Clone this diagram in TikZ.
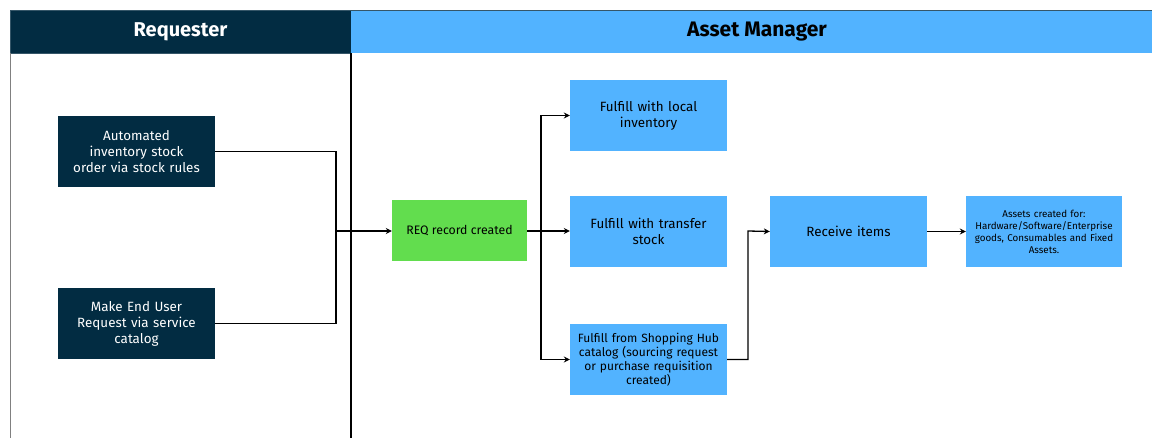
\documentclass[tikz,border=0pt]{standalone}
\usepackage{fontspec}
\setmainfont{Fira Sans}
\usetikzlibrary{arrows.meta}

\definecolor{navy}{HTML}{022C42}
\definecolor{skyblue}{HTML}{52B3FF}
\definecolor{reqgreen}{HTML}{62DD4E}

\tikzset{
  darkbox/.style={fill=navy, text=white, minimum width=157pt, minimum height=71pt,
    inner sep=0pt, align=center, text width=150pt, font=\fontsize{13.4}{16}\selectfont},
  bluebox/.style={fill=skyblue, text=black, minimum width=157pt, minimum height=71pt,
    inner sep=0pt, align=center, text width=150pt, font=\fontsize{13.4}{16}\selectfont},
  greenbox/.style={fill=reqgreen, text=black, minimum width=135pt, minimum height=61pt,
    inner sep=0pt, align=center, font=\fontsize{12.3}{14}\selectfont},
  link/.style={line width=1.3pt, black},
  arr/.style={link, -{Stealth[length=6pt,width=6pt]}}
}

\begin{document}
\begin{tikzpicture}[x=1pt, y=-1pt]
    \useasboundingbox (0,0) rectangle (1152,438);

    % Lane headers
    \draw[fill=navy, draw=navy!80] (10,10) rectangle (351,53);
    \fill[skyblue] (351,10) rectangle (1152,53);
    \draw[navy!80, line width=0.8pt] (351,10) -- (1152,10);
    \node[text=white, font=\fontsize{20}{22}\selectfont\bfseries] (lreq) at (180.5,31.5) {Requester};
    \node[text=black, font=\fontsize{21}{22}\selectfont\bfseries] (lmgr) at (757,31.5) {Asset Manager};

    % Lane borders
    \draw[gray, line width=0.6pt] (10,53) -- (10,438);
    \draw[black, line width=1.2pt] (351,53) -- (351,438);

    % Requester boxes
    \node[darkbox] (auto) at (136.5,151.5) {Automated\\inventory stock\\order via stock rules};
    \node[darkbox] (enduser) at (136.5,323.5) {Make End User\\Request via service\\catalog};

    % Asset manager boxes
    \node[greenbox] (req) at (459.5,231) {REQ record created};
    \node[bluebox] (local) at (648.5,115.5) {Fulfill with local\\inventory};
    \node[bluebox] (transfer) at (648.5,231.5) {Fulfill with transfer\\stock};
    \node[bluebox, font=\fontsize{12}{14}\selectfont] (shop) at (648.5,359.5)
        {Fulfill from Shopping Hub\\catalog (sourcing request\\or purchase requisition\\created)};
    \node[bluebox] (receive) at (848.5,231.5) {Receive items};
    \node[bluebox, minimum width=156pt, font=\fontsize{9.8}{12}\selectfont] (assets) at (1044,231.5)
        {Assets created for:\\Hardware/Software/Enterprise\\goods, Consumables and Fixed\\Assets.};

    % Connectors
    \coordinate (jn) at (336,231);
    \coordinate (br) at (541,231);
    \coordinate (up) at (748,231);
    \draw[link] (auto.east) -| (jn);
    \draw[link] (enduser.east) -| (jn);
    \draw[arr] (jn) -- (req.west);
    \draw[arr] (req.east) -- (req.east -| transfer.west);
    \draw[arr] (br) |- (local.west);
    \draw[arr] (br) |- (shop.west);
    \draw[arr] (shop.east) -| (up) -- (receive.west);
    \draw[arr] (receive.east) -- (assets.west);
\end{tikzpicture}
\end{document}
